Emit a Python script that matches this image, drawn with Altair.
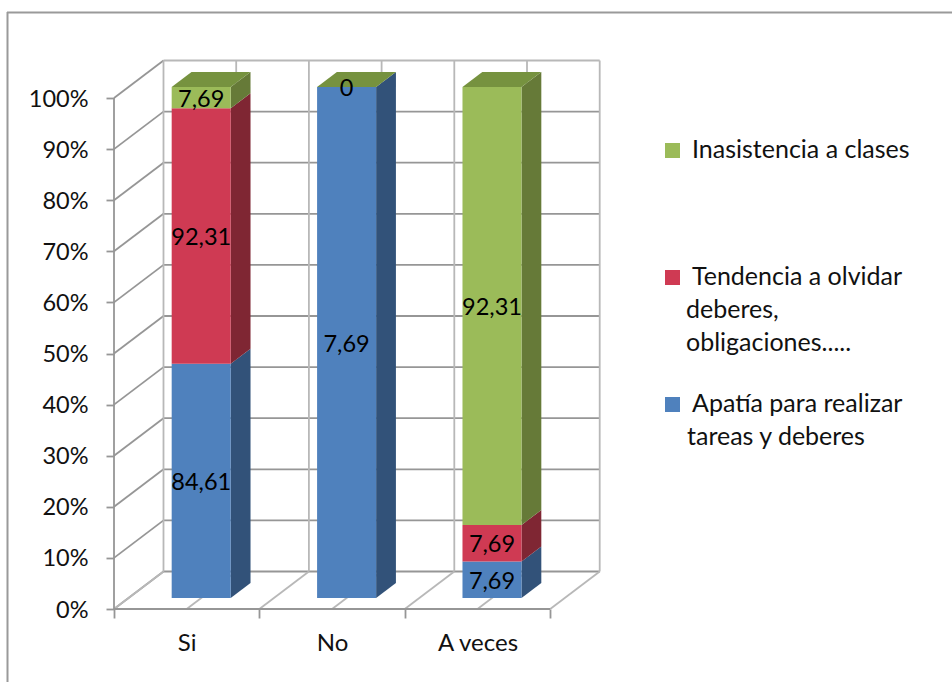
import altair as alt
import pandas as pd

FONT = "Lato"
TEXT = "#111111"

# Answers per category, as printed on the bars
categories = ["Si", "No", "A veces"]
apatia = [84.61, 7.69, 7.69]
tendencia = [92.31, 0, 7.69]
inasistencia = [7.69, 0, 92.31]

series_names = ["Apatía", "Tendencia", "Inasistencia"]
front_colors = ["#4F81BD", "#CF3A53", "#9BBB59"]
side_colors = ["#325279", "#7F2633", "#667A38"]
top_color = "#76923F"
wall_dark = "#969696"
wall_light = "#B8B8B8"

# Legend entries: swatch colour, then lines of text (left edge, baseline)
legend_swatches = [("#9BBB59", 143), ("#CF3A53", 270), ("#4F81BD", 397)]
legend_lines = [
    ("Inasistencia a clases", 692, 158),
    ("Tendencia a olvidar", 692, 285),
    ("deberes,", 686, 318),
    ("obligaciones.....", 686, 351),
    ("Apatía para realizar", 692, 412),
    ("tareas y deberes", 687, 445),
]

# Plot geometry
LEFT, TOP = 114, 60
W, H = 487, 549
PX_PER_CAT = 145.4
PX_PER_PCT = 5.11
X_MAX = W / PX_PER_CAT
Y_MAX = H / PX_PER_PCT
X_DEPTH = 49.5 / PX_PER_CAT
Y_DEPTH = 37.5 / PX_PER_PCT
BAR_W = 0.406
T_FRONT = 0.293
T_BACK = 0.693

x_scale = alt.Scale(domain=[0, X_MAX], nice=False, zero=False)
y_scale = alt.Scale(domain=[0, Y_MAX], nice=False, zero=False)
x_q = lambda f: alt.X(f"{f}:Q", scale=x_scale, title=None)
y_q = lambda f: alt.Y(f"{f}:Q", scale=y_scale, title=None, stack=None)

# Walls and floor of the 3D box
wall_rows = []


def wall(x, y, x2, y2, color):
    wall_rows.append(dict(x=x, y=y, x2=x2, y2=y2, color=color))


for v in range(0, 101, 10):
    wall(X_DEPTH, v + Y_DEPTH, 3 + X_DEPTH, v + Y_DEPTH, wall_light if v == 100 else wall_dark)
    wall(0, v, X_DEPTH, v + Y_DEPTH, wall_dark)
for i in range(7):
    wall(i / 2 + X_DEPTH, Y_DEPTH, i / 2 + X_DEPTH, 100 + Y_DEPTH, wall_light)
    wall(i / 2, 0, i / 2 + X_DEPTH, Y_DEPTH, wall_light)
wall(0, 0, 3, 0, wall_dark)
wall(0, 0, 0, 100, wall_dark)

walls = (
    alt.Chart(pd.DataFrame(wall_rows))
    .mark_rule(strokeWidth=1.8)
    .encode(
        x=alt.X(
            "x:Q",
            scale=x_scale,
            title=None,
            axis=alt.Axis(
                values=[0, 0.5, 1, 1.5, 2, 2.5, 3],
                domain=False,
                grid=False,
                tickColor=wall_dark,
                tickWidth=1.8,
                tickSize=9,
                tickOpacity={"condition": {"test": "datum.value % 1 != 0", "value": 0}, "value": 1},
                labelExpr=(
                    f"datum.value == 0.5 ? '{categories[0]}' : "
                    f"datum.value == 1.5 ? '{categories[1]}' : "
                    f"datum.value == 2.5 ? '{categories[2]}' : ''"
                ),
                labelFont=FONT,
                labelFontSize=24,
                labelColor=TEXT,
                labelPadding=13,
                labelOverlap=False,
            ),
        ),
        x2="x2:Q",
        y=alt.Y(
            "y:Q",
            scale=y_scale,
            title=None,
            axis=alt.Axis(
                values=list(range(0, 101, 10)),
                domain=False,
                grid=False,
                tickColor=wall_dark,
                tickWidth=1.8,
                tickSize=8,
                labelExpr="datum.value + '%'",
                labelFont=FONT,
                labelFontSize=23.5,
                labelColor=TEXT,
                labelPadding=18,
                labelOffset=1,
            ),
        ),
        y2="y2:Q",
        color=alt.Color("color:N", scale=None),
    )
)

# Stacked columns, each normalised to 100 % of its category
rect_rows, side_rows, top_rows, label_rows = [], [], [], []
for i, cat in enumerate(categories):
    values = [apatia[i], tendencia[i], inasistencia[i]]
    total = sum(values)
    x0 = i + 0.5 - BAR_W / 2 + X_DEPTH * T_FRONT
    x1 = x0 + BAR_W
    x_back = x1 + X_DEPTH * (T_BACK - T_FRONT)
    y_off = Y_DEPTH * T_FRONT
    y_off_back = Y_DEPTH * T_BACK
    low = 0.0
    for s, v in enumerate(values):
        high = low + v / total * 100
        if v > 0:
            rect_rows.append(dict(x=x0, x2=x1, y=low + y_off, y2=high + y_off, color=front_colors[s]))
            key = f"{cat}-{s}"
            side_rows.append(dict(id=key, x=x1, y=low + y_off, y2=high + y_off, color=side_colors[s]))
            side_rows.append(dict(id=key, x=x_back, y=low + y_off_back, y2=high + y_off_back, color=side_colors[s]))
        if v > 0 or s == 2:
            label = f"{v:.2f}".replace(".", ",") if v > 0 else "0"
            label_rows.append(dict(x=(x0 + x1) / 2, y=(low + high) / 2 + y_off, label=label))
        low = high
    top_rows.append(dict(id=cat, y=100 + y_off, x=x0, x2=x1))
    top_rows.append(dict(id=cat, y=100 + y_off_back, x=x_back - BAR_W, x2=x_back))

front = (
    alt.Chart(pd.DataFrame(rect_rows))
    .mark_rect()
    .encode(x=x_q("x"), x2="x2:Q", y=y_q("y"), y2="y2:Q", color=alt.Color("color:N", scale=None))
)
sides = (
    alt.Chart(pd.DataFrame(side_rows))
    .mark_area(interpolate="linear", orient="vertical")
    .encode(x=x_q("x"), y=y_q("y"), y2="y2:Q", color=alt.Color("color:N", scale=None), detail="id:N")
)
tops = (
    alt.Chart(pd.DataFrame(top_rows))
    .mark_area(interpolate="linear", orient="horizontal", color=top_color)
    .encode(y=y_q("y"), x=x_q("x"), x2="x2:Q", detail="id:N")
)
labels = (
    alt.Chart(pd.DataFrame(label_rows))
    .mark_text(font=FONT, fontSize=23.5, color="#000000", baseline="middle", align="center", dy=2)
    .encode(x=x_q("x"), y=y_q("y"), text="label:N")
)

one_row = alt.Data(values=[{"k": 1}])

# Outer frame: only its top and left sides are visible
frame_top = (
    alt.Chart(one_row)
    .mark_rule(color="#9A9A9A", strokeWidth=2)
    .encode(x=alt.value(7 - LEFT), x2=alt.value(952 - LEFT), y=alt.value(12.5 - TOP))
)
frame_left = (
    alt.Chart(one_row)
    .mark_rule(color="#9A9A9A", strokeWidth=2)
    .encode(x=alt.value(7.5 - LEFT), y=alt.value(12 - TOP), y2=alt.value(682 - TOP))
)

# Hand-placed legend, with its wrapped lines
legend_layers = []
for color, top in legend_swatches:
    legend_layers.append(
        alt.Chart(one_row)
        .mark_rect(color=color)
        .encode(
            x=alt.value(665 - LEFT),
            x2=alt.value(680 - LEFT),
            y=alt.value(top - TOP),
            y2=alt.value(top + 15 - TOP),
        )
    )
for text, left, base in legend_lines:
    legend_layers.append(
        alt.Chart(one_row)
        .mark_text(text=text, font=FONT, fontSize=25, color=TEXT, align="left", baseline="alphabetic")
        .encode(x=alt.value(left - LEFT), y=alt.value(base - TOP))
    )

chart = (
    alt.layer(frame_top, frame_left, walls, sides, front, tops, labels, *legend_layers)
    .properties(
        width=W,
        height=H,
        background="white",
        padding={"left": LEFT, "top": TOP, "right": 952 - LEFT - W, "bottom": 682 - TOP - H},
        autosize=alt.AutoSizeParams(type="none"),
    )
    .configure_view(stroke=None)
)

chart.save("out.html", embed_options={"renderer": "svg", "actions": False})
